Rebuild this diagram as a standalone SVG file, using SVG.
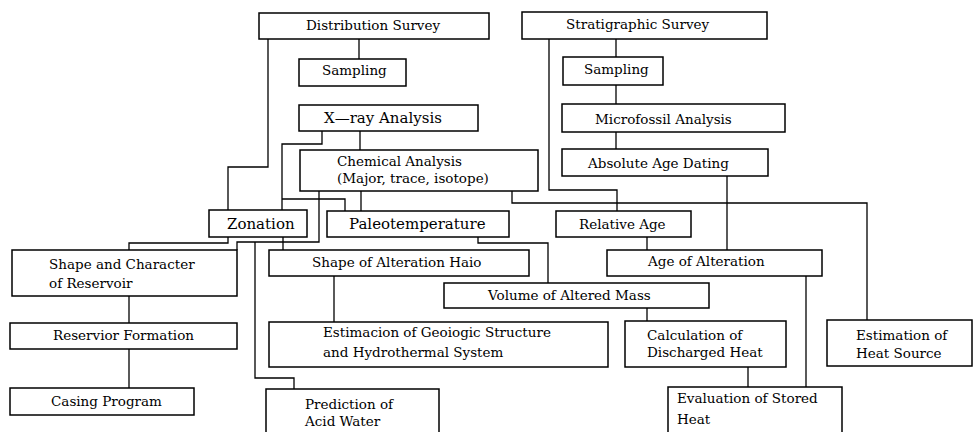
<svg xmlns="http://www.w3.org/2000/svg" width="974" height="432" viewBox="0 0 974 432">
<style>
rect{fill:#fff;stroke:#000;stroke-width:1.5}
text{font-family:"DejaVu Serif","Liberation Serif",serif;font-size:13.5px;fill:#000}
text.big{font-size:15px}
#connectors path{fill:none;stroke:#000;stroke-width:1.3}
</style>
<rect width="974" height="432" style="fill:#fff;stroke:none"/>
<g id="connectors">
<path d="M268,39 V167 H228 V210"/>
<path d="M359,39 V59"/>
<path d="M360,131 V150"/>
<path d="M322,131 V144 H282 V210"/>
<path d="M282,199 H345 V211"/>
<path d="M361,191 V211"/>
<path d="M319,191 V242 H237 V250"/>
<path d="M255,242 V378 H294 V389"/>
<path d="M228,237 V243 H129 V250"/>
<path d="M283,237 V250"/>
<path d="M129,296 V323"/>
<path d="M129,349 V388"/>
<path d="M334,276 V322"/>
<path d="M478,237 V243 H548 V283"/>
<path d="M512,191 V203 H867 V320"/>
<path d="M617,203 V211"/>
<path d="M549,39 V190 H617 V203"/>
<path d="M616,39 V57"/>
<path d="M616,85 V104"/>
<path d="M616,132 V149"/>
<path d="M727,176 V250"/>
<path d="M647,237 V250"/>
<path d="M806,276 V387"/>
<path d="M647,308 V321"/>
<path d="M748,367 V387"/>
</g>
<g id="distribution-survey"><rect x="259" y="13" width="230" height="26"/><text x="306" y="30">Distribution Survey</text></g>
<g id="sampling-left"><rect x="299" y="59" width="107" height="27"/><text x="322" y="75">Sampling</text></g>
<g id="xray-analysis"><rect x="299" y="105" width="179" height="26"/><text class="big" x="324" y="123">X—ray Analysis</text></g>
<g id="stratigraphic-survey"><rect x="522" y="12" width="245" height="27"/><text x="566" y="29">Stratigraphic Survey</text></g>
<g id="sampling-right"><rect x="563" y="57" width="100" height="28"/><text x="584" y="74">Sampling</text></g>
<g id="microfossil-analysis"><rect x="562" y="104" width="223" height="28"/><text x="595" y="124">Microfossil Analysis</text></g>
<g id="absolute-age-dating"><rect x="562" y="149" width="206" height="27"/><text x="588" y="168">Absolute Age Dating</text></g>
<g id="chemical-analysis"><rect x="300" y="150" width="238" height="41"/><text x="337" y="166">Chemical Analysis</text><text x="337" y="183">(Major, trace, isotope)</text></g>
<g id="zonation"><rect x="209" y="210" width="98" height="27"/><text class="big" x="227" y="229">Zonation</text></g>
<g id="paleotemperature"><rect x="327" y="211" width="182" height="26"/><text class="big" x="349" y="229">Paleotemperature</text></g>
<g id="relative-age"><rect x="556" y="211" width="135" height="26"/><text x="579" y="229">Relative Age</text></g>
<g id="shape-character-reservoir"><rect x="12" y="250" width="225" height="46"/><text x="49" y="269">Shape and Character</text><text x="49" y="288">of Reservoir</text></g>
<g id="shape-alteration-halo"><rect x="269" y="250" width="260" height="26"/><text x="312" y="267">Shape of Alteration Haio</text></g>
<g id="age-of-alteration"><rect x="607" y="250" width="215" height="26"/><text x="648" y="266">Age of Alteration</text></g>
<g id="volume-altered-mass"><rect x="444" y="283" width="265" height="25"/><text x="488" y="300">Volume of Altered Mass</text></g>
<g id="reservior-formation"><rect x="10" y="323" width="227" height="26"/><text x="53" y="340">Reservior Formation</text></g>
<g id="casing-program"><rect x="10" y="388" width="184" height="27"/><text x="51" y="406">Casing Program</text></g>
<g id="estimacion-structure"><rect x="269" y="322" width="339" height="45"/><text x="323" y="337">Estimacion of Geoiogic Structure</text><text x="323" y="357">and Hydrothermal System</text></g>
<g id="calculation-discharged-heat"><rect x="625" y="321" width="161" height="46"/><text x="647" y="340">Calculation of</text><text x="647" y="357">Discharged Heat</text></g>
<g id="estimation-heat-source"><rect x="827" y="320" width="145" height="46"/><text x="856" y="340">Estimation of</text><text x="856" y="358">Heat Source</text></g>
<g id="prediction-acid-water"><rect x="266" y="389" width="173" height="60"/><text x="305" y="409">Prediction of</text><text x="305" y="426">Acid Water</text></g>
<g id="evaluation-stored-heat"><rect x="668" y="387" width="174" height="60"/><text x="677" y="403">Evaluation of Stored</text><text x="677" y="424">Heat</text></g>
</svg>
